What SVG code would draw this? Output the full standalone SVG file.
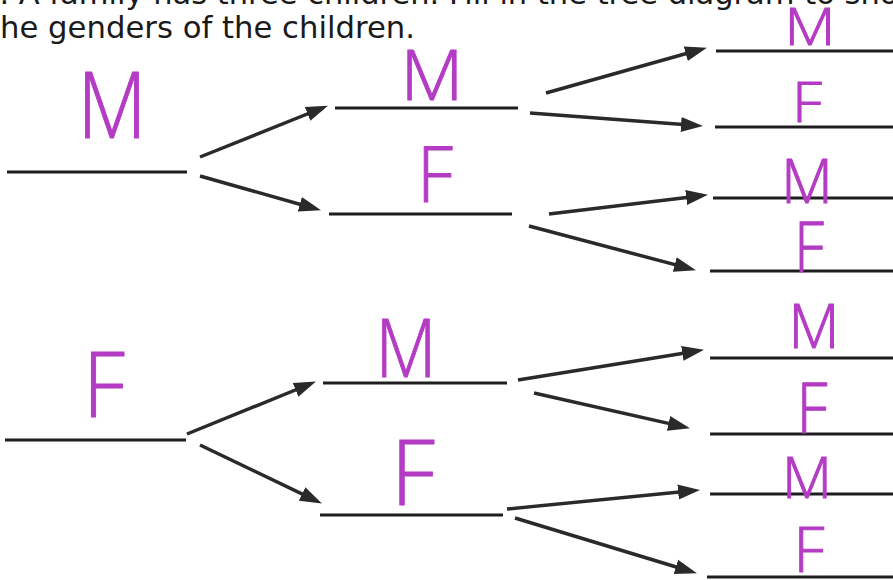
<svg xmlns="http://www.w3.org/2000/svg" width="893" height="580" viewBox="0 0 893 580">
<style>
.hdr{font-family:"DejaVu Sans","Liberation Sans",sans-serif;font-size:30.5px;fill:#1a1a1a}
.slot{stroke:#1e1e1e;stroke-width:3;fill:none}
.lbl{font-family:"Open Sans","Liberation Sans",sans-serif;font-weight:300;fill:#b43cc4;stroke:#b43cc4;stroke-width:1;text-anchor:middle}
.arr{stroke:#2a2a2a;stroke-width:3.5;fill:none;marker-end:url(#ah)}
</style>
<defs>
<marker id="ah" markerWidth="22" markerHeight="18" refX="9" refY="9" orient="auto" markerUnits="userSpaceOnUse">
<path d="M0,1.5 L22,9 L0,16.5 z" fill="#2a2a2a"/>
</marker>
</defs>
<rect width="893" height="580" fill="#ffffff"/>
<text class="hdr" x="-20" y="4">3. A family has three children. Fill in the tree diagram to show</text>
<text class="hdr" x="0" y="38" textLength="415" lengthAdjust="spacingAndGlyphs">he genders of the children.</text>

<g id="connectors">
<line class="arr" x1="200" y1="157" x2="315.9" y2="110.5"/>
<line class="arr" x1="200" y1="176" x2="308.5" y2="206.7"/>
<line class="arr" x1="187" y1="434" x2="303.9" y2="386.5"/>
<line class="arr" x1="200" y1="445" x2="310.2" y2="497.8"/>
<line class="arr" x1="546" y1="93" x2="694.4" y2="51.3"/>
<line class="arr" x1="530" y1="113" x2="690" y2="125.1"/>
<line class="arr" x1="549" y1="214" x2="695.1" y2="196.4"/>
<line class="arr" x1="529" y1="226" x2="683.4" y2="266.9"/>
<line class="arr" x1="518" y1="380" x2="691.2" y2="351.9"/>
<line class="arr" x1="534" y1="393" x2="677.3" y2="425.4"/>
<line class="arr" x1="507" y1="509" x2="687.1" y2="491.2"/>
<line class="arr" x1="515" y1="518" x2="684.5" y2="569.5"/>
</g>

<g id="n1-M"><line class="slot" x1="7" y1="172" x2="187" y2="172"/><text class="lbl" x="112" y="138" font-size="92" textLength="69" lengthAdjust="spacingAndGlyphs">M</text></g>
<g id="n1-F"><line class="slot" x1="5" y1="440" x2="186" y2="440"/><text class="lbl" x="104" y="417" font-size="91" textLength="42" lengthAdjust="spacingAndGlyphs">F</text></g>

<g id="n2-MM"><line class="slot" x1="335" y1="108" x2="518" y2="108"/><text class="lbl" x="432" y="100" font-size="70" textLength="63" lengthAdjust="spacingAndGlyphs">M</text></g>
<g id="n2-MF"><line class="slot" x1="329" y1="214" x2="512" y2="214"/><text class="lbl" x="435" y="202" font-size="78" textLength="36" lengthAdjust="spacingAndGlyphs">F</text></g>
<g id="n2-FM"><line class="slot" x1="323" y1="383" x2="507" y2="383"/><text class="lbl" x="406" y="377" font-size="82" textLength="61" lengthAdjust="spacingAndGlyphs">M</text></g>
<g id="n2-FF"><line class="slot" x1="320" y1="515" x2="503" y2="515"/><text class="lbl" x="413" y="505" font-size="91" textLength="44" lengthAdjust="spacingAndGlyphs">F</text></g>

<g id="n3-MMM"><line class="slot" x1="716" y1="51" x2="893" y2="51"/><text class="lbl" x="810" y="45" font-size="52" textLength="51" lengthAdjust="spacingAndGlyphs">M</text></g>
<g id="n3-MMF"><line class="slot" x1="715" y1="127" x2="893" y2="127"/><text class="lbl" x="807" y="122" font-size="56" textLength="30" lengthAdjust="spacingAndGlyphs">F</text></g>
<g id="n3-MFM"><line class="slot" x1="713" y1="198" x2="893" y2="198"/><text class="lbl" x="807" y="203" font-size="60" textLength="52" lengthAdjust="spacingAndGlyphs">M</text></g>
<g id="n3-MFF"><line class="slot" x1="710" y1="271" x2="893" y2="271"/><text class="lbl" x="809" y="272" font-size="70" textLength="30" lengthAdjust="spacingAndGlyphs">F</text></g>
<g id="n3-FMM"><line class="slot" x1="710" y1="358" x2="893" y2="358"/><text class="lbl" x="814" y="348" font-size="60" textLength="51" lengthAdjust="spacingAndGlyphs">M</text></g>
<g id="n3-FMF"><line class="slot" x1="710" y1="434" x2="893" y2="434"/><text class="lbl" x="812" y="433" font-size="70" textLength="31" lengthAdjust="spacingAndGlyphs">F</text></g>
<g id="n3-FFM"><line class="slot" x1="710" y1="494" x2="893" y2="494"/><text class="lbl" x="807" y="498" font-size="57" textLength="50" lengthAdjust="spacingAndGlyphs">M</text></g>
<g id="n3-FFF"><line class="slot" x1="707" y1="577" x2="893" y2="577"/><text class="lbl" x="809" y="572" font-size="63" textLength="31" lengthAdjust="spacingAndGlyphs">F</text></g>
</svg>
